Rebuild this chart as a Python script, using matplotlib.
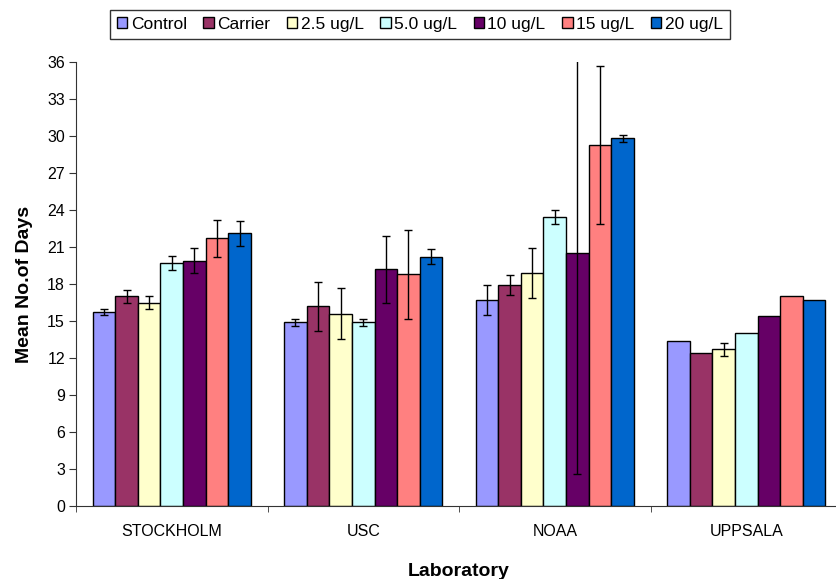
import numpy as np
import matplotlib
matplotlib.use('Agg')
import matplotlib.pyplot as plt

plt.rcParams['font.family'] = ['Liberation Sans', 'DejaVu Sans']

labs = ['STOCKHOLM', 'USC', 'NOAA', 'UPPSALA']
series = ['Control', 'Carrier', '2.5 ug/L', '5.0 ug/L', '10 ug/L', '15 ug/L', '20 ug/L']
colors = ['#9999FF', '#993366', '#FFFFCC', '#CCFFFF', '#660066', '#FF8080', '#0066CC']

# mean days per series, one value per laboratory
control = [15.7, 14.9, 16.7, 13.4]
carrier = [17.0, 16.2, 17.9, 12.4]
c2_5 = [16.5, 15.6, 18.9, 12.7]
c5_0 = [19.7, 14.9, 23.4, 14.0]
c10 = [19.9, 19.2, 20.5, 15.4]
c15 = [21.7, 18.8, 29.3, 17.0]
c20 = [22.1, 20.2, 29.8, 16.7]

# error bar half-widths
err_control = [0.25, 0.3, 1.25, 0]
err_carrier = [0.5, 2.0, 0.8, 0]
err_c2_5 = [0.5, 2.05, 2.05, 0.5]
err_c5_0 = [0.55, 0.3, 0.57, 0]
err_c10 = [1.0, 2.7, 17.9, 0]
err_c15 = [1.5, 3.6, 6.4, 0]
err_c20 = [1.0, 0.6, 0.3, 0]

values = [control, carrier, c2_5, c5_0, c10, c15, c20]
errors = [err_control, err_carrier, err_c2_5, err_c5_0, err_c10, err_c15, err_c20]

fig = plt.figure(figsize=(8.37, 5.79), dpi=100)
ax = fig.add_axes([76 / 837, 1 - 506 / 579, 766 / 837, 444 / 579])

x = np.arange(len(labs))
n = len(series)
w = 0.118
for i, (name, vals, errs, col) in enumerate(zip(series, values, errors, colors)):
    pos = x + (i - (n - 1) / 2) * w
    ax.bar(pos, vals, width=w, color=col, edgecolor='black', linewidth=1.0, label=name, zorder=2)
    mask = np.array(errs) > 0
    ax.errorbar(pos[mask], np.array(vals)[mask], yerr=np.array(errs)[mask], fmt='none',
                ecolor='black', elinewidth=1.0, capsize=3, capthick=1.0, zorder=3)

ax.set_xlim(-0.5, 3.5)
ax.set_ylim(0, 36)
ax.set_yticks(np.arange(0, 37, 3))
ax.set_xticks(x)
ax.set_xticklabels(labs)
ax.set_xticks(np.arange(-0.5, 3.6, 1), minor=True)
ax.tick_params(axis='x', which='major', length=0, pad=13, labelsize=11.5)
ax.tick_params(axis='x', which='minor', length=4, direction='out', color='#333333')
ax.tick_params(axis='y', length=5, direction='out', labelsize=11.5, color='#333333', pad=3)

for s in ['top', 'right']:
    ax.spines[s].set_visible(False)
ax.spines['left'].set_color('#333333')
ax.spines['bottom'].set_color('#333333')

ax.set_ylabel('Mean No.of Days', fontsize=14, fontweight='bold', labelpad=10)
ax.set_xlabel('Laboratory', fontsize=14, fontweight='bold', labelpad=17)

leg = fig.legend(loc='upper left', bbox_to_anchor=(110 / 837, 1 - 10 / 579), ncol=7,
                 frameon=True, fancybox=False, edgecolor='black', fontsize=12.5,
                 handlelength=0.6, handleheight=0.6, handletextpad=0.2, columnspacing=0.95,
                 borderpad=0.4, borderaxespad=0)
leg.get_frame().set_linewidth(1.0)

fig.savefig('out.png', dpi=100)
